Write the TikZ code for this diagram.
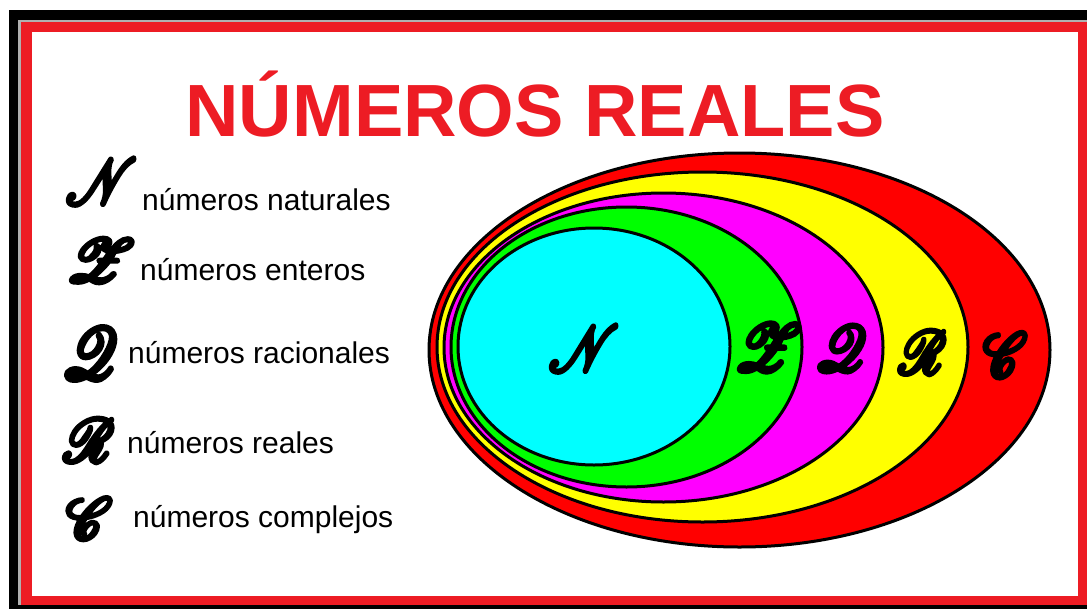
\documentclass[tikz,border=0pt]{standalone}
\usepackage{fontspec}
\setmainfont{Liberation Sans}
\usepackage{mathrsfs}
\usepackage{graphicx}
\definecolor{titlered}{HTML}{ED1C24}
\definecolor{frameGray}{HTML}{B0B0B0}
\newcommand\heavyglyph[1]{\special{pdf:literal direct 2 Tr 0.75 w 1 j}#1\special{pdf:literal direct 0 Tr}}
\newcommand\scrglyph[3]{\resizebox*{#2}{#3}{\heavyglyph{$\mathscr{#1}$}}}
\tikzset{
  setring/.style={draw=black, line width=3pt},
  symb/.style={inner sep=0pt, anchor=center},
  legtext/.style={inner sep=0pt, anchor=base west, font=\fontsize{30}{36}\selectfont},
  titletext/.style={inner sep=0pt, anchor=base, text=titlered, font=\fontsize{74}{80}\selectfont\bfseries}
}
\begin{document}
\begin{tikzpicture}[x=1pt,y=-1pt]
\useasboundingbox (0,0) rectangle (1087,608);
% frame
\begin{scope}
\clip (0,0) rectangle (1087,608);
\fill[black] (9,10) rectangle (1110,630);
\fill[frameGray] (18,20) rectangle (1105,605);
\fill[titlered] (21,22) rectangle (1105,605);
\fill[white] (32,32) rectangle (1078,596);
\end{scope}
% title
\node[titletext] (title) at (535,136) {NÚMEROS REALES};
% nested sets
\filldraw[setring, fill={rgb,255:red,255;green,0;blue,0}] (739.5,350) ellipse [x radius=310.5, y radius=197];
\filldraw[setring, fill={rgb,255:red,255;green,255;blue,0}] (702.5,347) ellipse [x radius=265.5, y radius=175];
\filldraw[setring, fill={rgb,255:red,255;green,0;blue,255}] (663.5,347.5) ellipse [x radius=219.5, y radius=154.5];
\filldraw[setring, fill={rgb,255:red,0;green,255;blue,0}] (626.5,347) ellipse [x radius=175.5, y radius=140];
\filldraw[setring, fill={rgb,255:red,0;green,255;blue,255}] (594,346.5) ellipse [x radius=136, y radius=118.5];
% set letters
\node[symb] (eN) at (584,348.5) {\scrglyph{N}{70pt}{45pt}};
\node[symb] (eZ) at (767.5,347.5) {\scrglyph{Z}{67pt}{47pt}};
\node[symb] (eQ) at (841,348.5) {\scrglyph{Q}{50pt}{45pt}};
\node[symb] (eR) at (922.5,352.5) {\scrglyph{R}{47pt}{43pt}};
\node[symb] (eC) at (1005,355) {\scrglyph{C}{44pt}{44pt}};
% legend
\node[symb] (lN) at (101.5,181.5) {\scrglyph{N}{71pt}{45pt}};
\node[legtext] (tN) at (142,210) {números naturales};
\node[symb] (lZ) at (100,260.5) {\scrglyph{Z}{68pt}{43pt}};
\node[legtext] (tZ) at (140,280) {números enteros};
\node[symb] (lQ) at (90,353.5) {\scrglyph{Q}{54pt}{51pt}};
\node[legtext] (tQ) at (128,363) {números racionales};
\node[symb] (lR) at (89,440.5) {\scrglyph{R}{50pt}{43pt}};
\node[legtext] (tR) at (127,453) {números reales};
\node[symb] (lC) at (89,518.5) {\scrglyph{C}{46pt}{41pt}};
\node[legtext] (tC) at (133,527) {números complejos};
\end{tikzpicture}
\end{document}
